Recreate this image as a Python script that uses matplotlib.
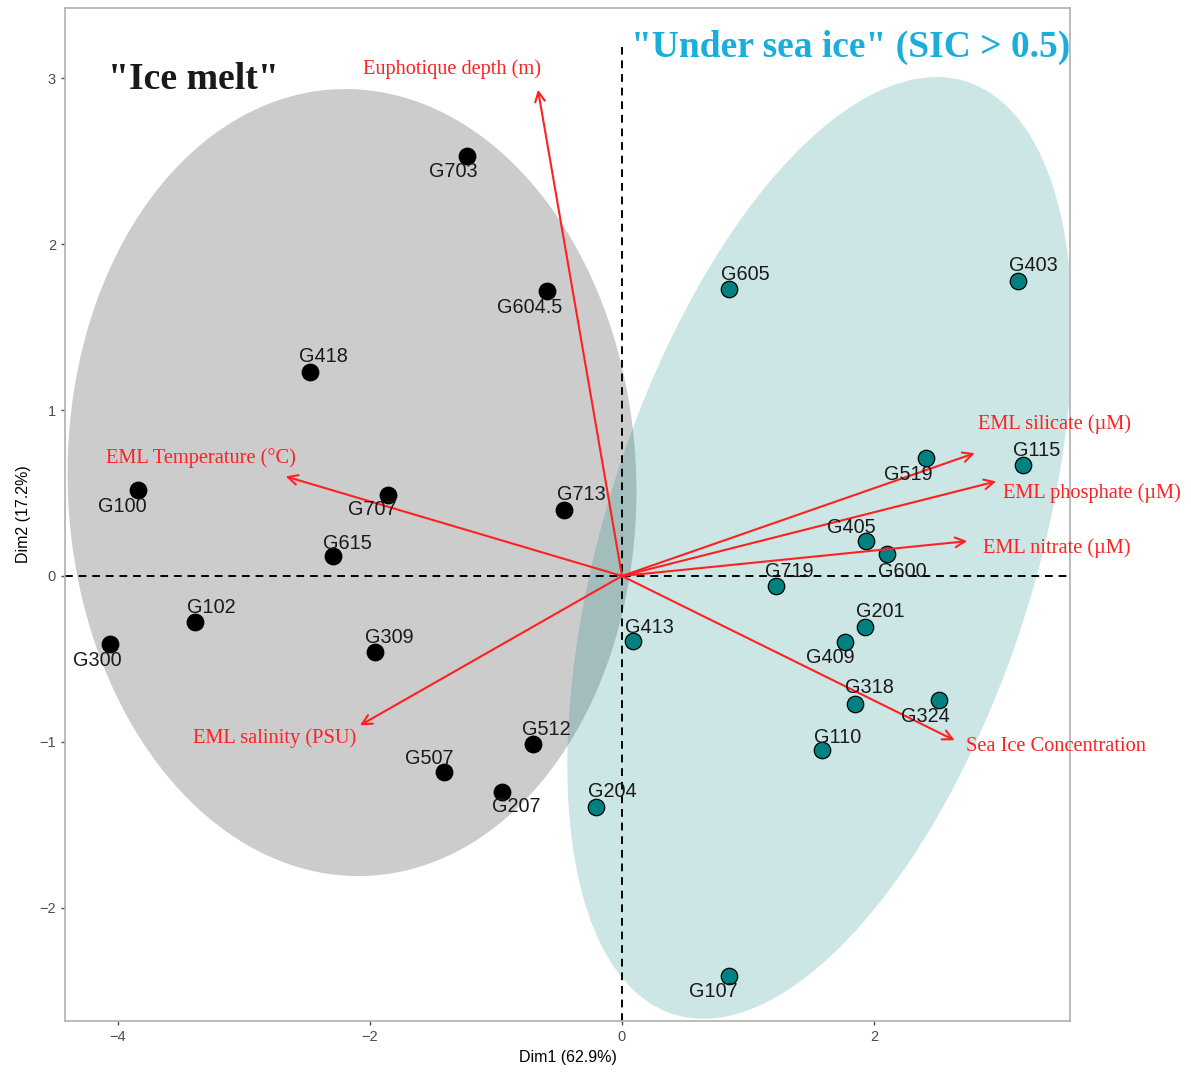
import numpy as np
import matplotlib
matplotlib.use("Agg")
import matplotlib.pyplot as plt

# ---------------- data ----------------
melt_names = ["G703", "G604.5", "G418", "G100", "G707", "G713", "G615",
              "G102", "G300", "G309", "G512", "G507", "G207"]
melt_dim1 = [-1.23, -0.595, -2.48, -3.84, -1.86, -0.46, -2.29,
             -3.39, -4.06, -1.96, -0.71, -1.41, -0.95]
melt_dim2 = [2.53, 1.72, 1.23, 0.52, 0.49, 0.40, 0.12,
             -0.28, -0.41, -0.46, -1.01, -1.18, -1.30]

ice_names = ["G605", "G403", "G519", "G115", "G405", "G600", "G719", "G201",
             "G409", "G413", "G318", "G324", "G110", "G204", "G107"]
ice_dim1 = [0.85, 3.14, 2.41, 3.18, 1.94, 2.10, 1.22, 1.93,
            1.77, 0.09, 1.85, 2.52, 1.59, -0.21, 0.85]
ice_dim2 = [1.73, 1.78, 0.71, 0.67, 0.21, 0.13, -0.06, -0.31,
            -0.40, -0.39, -0.77, -0.75, -1.05, -1.39, -2.41]

var_names = ["Euphotique depth (m)", "EML Temperature (°C)", "EML salinity (PSU)",
             "EML silicate (µM)", "EML phosphate (µM)", "EML nitrate (µM)",
             "Sea Ice Concentration"]
var_dim1 = [-0.667, -2.67, -2.08, 2.80, 2.97, 2.74, 2.64]
var_dim2 = [2.93, 0.60, -0.90, 0.74, 0.57, 0.21, -0.99]

# ---------------- styling / layout (not data) ----------------
# label offsets in pixels (dx, dy) relative to the point, y up
label_off = {
    "G703": (-14, -15), "G604.5": (-17, -17), "G418": (14, 15), "G100": (-16, -17),
    "G707": (-15, -15), "G713": (17, 15), "G615": (14, 13), "G102": (16, 15),
    "G300": (-13, -16), "G309": (14, 15), "G512": (14, 14), "G507": (-15, 13),
    "G207": (14, -15),
    "G605": (16, 14), "G403": (16, 15), "G519": (-17, -16), "G115": (14, 14),
    "G405": (-15, 14), "G600": (16, -17), "G719": (14, 14), "G201": (15, 16),
    "G409": (-15, -15), "G413": (16, 13), "G318": (14, 16), "G324": (-14, -16),
    "G110": (15, 13), "G204": (17, 15), "G107": (-16, -15),
}
# variable label placement (pixels offset from arrow tip, alignment)
var_lab = {
    "Euphotique depth (m)": ((-86, 21), "center"),
    "EML Temperature (°C)": ((-85, 18), "center"),
    "EML salinity (PSU)": ((-85, -13), "center"),
    "EML silicate (µM)": ((3, 29), "left"),
    "EML phosphate (µM)": ((7, -12), "left"),
    "EML nitrate (µM)": ((16, -7), "left"),
    "Sea Ice Concentration": ((11, -6), "left"),
}

W, H = 1191, 1072
fig = plt.figure(figsize=(W / 100, H / 100), dpi=100)
ax = fig.add_axes([65 / W, 1 - 1021 / H, (1070 - 65) / W, (1021 - 8) / H])
xlim = (-4.421, 3.556)
ylim = (-2.681, 3.422)
ax.set_xlim(*xlim)
ax.set_ylim(*ylim)

# ellipses (centre, conjugate semi-axis vectors in data units)
t = np.linspace(0, 2 * np.pi, 400)
def ell(c, v1, v2):
    return (c[0] + np.cos(t) * v1[0] + np.sin(t) * v2[0],
            c[1] + np.cos(t) * v1[1] + np.sin(t) * v2[1])
gx, gy = ell((-2.143, 0.563), (-0.109, 2.370), (-2.255, -0.061))
ax.fill(gx, gy, color="black", alpha=0.2, lw=0, zorder=1)
tx, ty = ell((1.571, 0.169), (1.16, 2.81), (-1.635, 0.389))
ax.fill(tx, ty, color="#008080", alpha=0.2, lw=0, zorder=1.1)

# reference lines
ax.axhline(0, color="black", ls=(0, (4, 3)), lw=1.4, zorder=1.5)
ymax_frac = (3.19 - ylim[0]) / (ylim[1] - ylim[0])
ax.axvline(0, ymax=ymax_frac, color="black", ls=(0, (4, 3)), lw=1.4, zorder=1.5)

# points
ax.scatter(melt_dim1, melt_dim2, s=140, color="black", zorder=3)
ax.scatter(ice_dim1, ice_dim2, s=140, color="#008080", edgecolor="black",
           linewidth=0.9, zorder=3)

for names, xs, ys in ((melt_names, melt_dim1, melt_dim2), (ice_names, ice_dim1, ice_dim2)):
    for n, x, y in zip(names, xs, ys):
        dx, dy = label_off[n]
        ax.annotate(n, (x, y), xytext=(dx, dy), textcoords="offset pixels",
                    ha="center", va="center", fontsize=14.3,
                    family="Liberation Sans", color="#1a1a1a", zorder=4)

# variable arrows
for n, x, y in zip(var_names, var_dim1, var_dim2):
    ax.annotate("", xy=(x, y), xytext=(0, 0),
                arrowprops=dict(arrowstyle="->,head_length=0.7,head_width=0.35",
                                color="#ff2020", lw=1.5, shrinkA=0, shrinkB=0),
                zorder=3.5)
    (dx, dy), ha = var_lab[n]
    ax.annotate(n, (x, y), xytext=(dx, dy), textcoords="offset pixels",
                ha=ha, va="center", fontsize=14.7, family="Liberation Serif",
                color="#ff2020", zorder=4)

# group titles
ax.text(0.043, 0.929, '"Ice melt"', transform=ax.transAxes, fontsize=27.2,
        fontweight="bold", family="Liberation Serif", color="#1a1a1a",
        ha="left", va="center", zorder=5)
ax.text(0.5632, 0.961, '"Under sea ice" (SIC > 0.5)', transform=ax.transAxes,
        fontsize=27, fontweight="bold", family="Liberation Serif", color="#1aaedc",
        ha="left", va="center", zorder=5)

# axes styling
ax.set_xticks([-4, -2, 0, 2])
ax.set_yticks([-2, -1, 0, 1, 2, 3])
ax.set_xticklabels(["\u22124", "\u22122", "0", "2"])
ax.set_yticklabels(["\u22122", "\u22121", "0", "1", "2", "3"])
ax.tick_params(colors="#4d4d4d", labelsize=10.5, length=3, width=1)
for lab in ax.get_xticklabels() + ax.get_yticklabels():
    lab.set_family("Liberation Sans")
for s in ax.spines.values():
    s.set_color("#b0b0b0")
    s.set_linewidth(1.2)
ax.set_xlabel("Dim1 (62.9%)", fontsize=11.5, family="Liberation Sans", labelpad=4)
ax.set_ylabel("Dim2 (17.2%)", fontsize=11.5, family="Liberation Sans", labelpad=6)

fig.savefig("out.png", dpi=100)
